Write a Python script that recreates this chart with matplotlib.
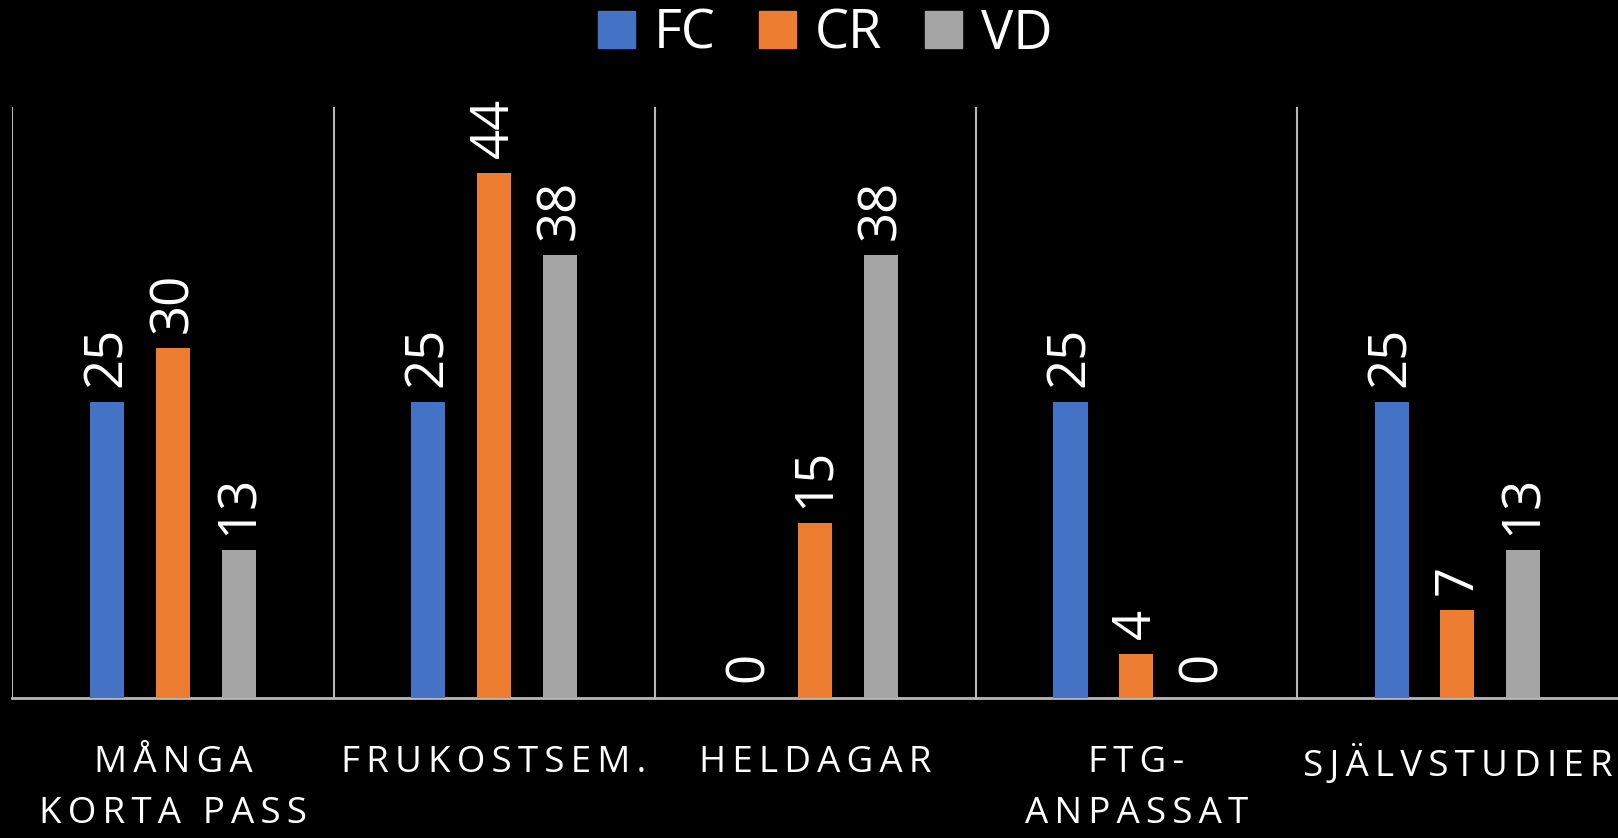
import numpy as np
import matplotlib
matplotlib.use("Agg")
import matplotlib.pyplot as plt
from matplotlib.patches import Patch

# chart data (percent), labels are rounded
categories = ["MÅNGA\nKORTA PASS", "FRUKOSTSEM.", "HELDAGAR", "FTG-\nANPASSAT", "SJÄLVSTUDIER"]
series = ["FC", "CR", "VD"]
fc = [25, 25, 0, 25, 25]
cr = [29.6, 44.4, 14.8, 3.7, 7.4]
vd = [12.5, 37.5, 37.5, 0, 12.5]
colors = ["#4472C4", "#ED7D31", "#A5A5A5"]

plt.rcParams['font.family'] = ['Open Sans', 'DejaVu Sans']

def spaced(s):
    # excel-like letter spacing
    return "\n".join("\u2009".join(line) for line in s.split("\n"))

fig = plt.figure(figsize=(16.18, 8.38), dpi=100, facecolor="black")
ax = fig.add_axes([0.0077, 0.1676, 0.9923, 0.7044])
ax.set_facecolor("black")

x = np.arange(len(categories))
width = 0.106
step = 0.205
for k, (vals, col) in enumerate(zip([fc, cr, vd], colors)):
    pos = x + (k - 1) * step
    ax.bar(pos, vals, width, color=col, zorder=3)
    for p, v in zip(pos, vals):
        ax.annotate(str(int(v + 0.5)), (p, v), xytext=(0, 11), textcoords="offset points",
                    rotation=90, ha="center", va="bottom", color="white",
                    fontsize=38)

ax.set_xlim(-0.5, len(categories) - 0.5)
ax.set_ylim(0, 50)

# separators between categories
for b in np.arange(len(categories)) - 0.5:
    ax.axvline(b, color="#b8b8b8", lw=1.5, zorder=1)

for s in ["top", "right", "left"]:
    ax.spines[s].set_visible(False)
ax.spines["bottom"].set_color("#b8b8b8")
ax.spines["bottom"].set_linewidth(2)
ax.set_yticks([])
ax.set_xticks(x)
ax.set_xticklabels([spaced(c) for c in categories], color="white", fontsize=26.5,
                   linespacing=1.55)
ax.tick_params(axis="x", length=0, pad=34)

handles = [Patch(color=c) for c in colors]
fig.legend(handles, series, loc="center", bbox_to_anchor=(0.51, 0.959),
           ncol=3, frameon=False, fontsize=39, labelcolor="white",
           handlelength=0.68, handleheight=0.68, handletextpad=0.35,
           columnspacing=0.8)

fig.savefig("out.png", dpi=100, facecolor="black")
